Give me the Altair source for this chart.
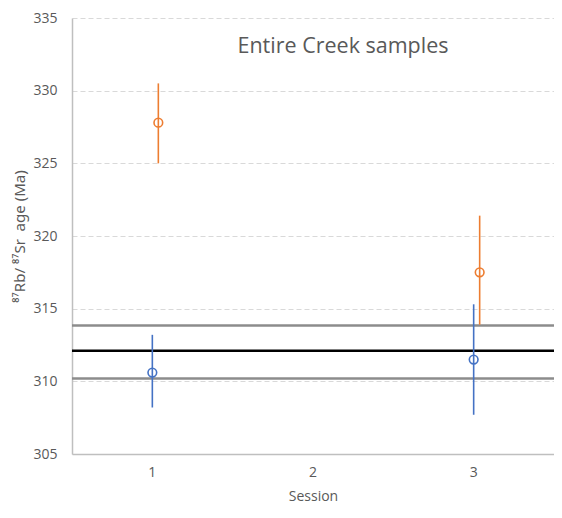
import altair as alt
import pandas as pd

sessions = ["1", "3"]
all_sessions = ["1", "2", "3"]

blue_age = [310.6, 311.5]
blue_lo = [308.2, 307.7]
blue_hi = [313.2, 315.3]

orange_age = [327.8, 317.5]
orange_lo = [325.0, 313.9]
orange_hi = [330.5, 321.4]

mean_age = [312.1]
bound_ages = [310.2, 313.85]

BLUE = "#4472C4"
ORANGE = "#ED7D31"
FONT = "Open Sans"

blue_df = pd.DataFrame({"session": sessions, "age": blue_age, "lo": blue_lo, "hi": blue_hi})
orange_df = pd.DataFrame({"session": sessions, "age": orange_age, "lo": orange_lo, "hi": orange_hi})
mean_df = pd.DataFrame({"age": mean_age})
bound_df = pd.DataFrame({"age": bound_ages})

x_enc = alt.X(
    "session:O",
    scale=alt.Scale(domain=all_sessions, paddingInner=0, paddingOuter=0),
    axis=alt.Axis(
        title="Session", labelAngle=0, ticks=False, grid=False,
        domainColor="#bfbfbf", domainWidth=1.5,
        labelFont=FONT, labelFontSize=14, labelColor="#595959", labelPadding=11,
        titleFont=FONT, titleFontSize=14, titleColor="#595959", titleFontWeight="normal",
        titlePadding=10,
    ),
)
y_scale = alt.Scale(domain=[305, 335], nice=False, zero=False)
y_axis = alt.Axis(
    title="⁸⁷Rb/\u00a0⁸⁷Sr\u00a0\u00a0age (Ma)", values=[305, 310, 315, 320, 325, 330, 335],
    ticks=False, grid=True, gridColor="#d9d9d9", gridDash=[5, 3], gridWidth=1,
    domainColor="#bfbfbf", domainWidth=1.5,
    labelFont=FONT, labelFontSize=14, labelColor="#595959", labelPadding=15,
    titleFont="Noto Sans", titleFontSize=15, titleColor="#595959", titleFontWeight="normal",
    titlePadding=5,
)

base_axes = alt.Chart(bound_df).mark_rule(color="#8c8c8c", strokeWidth=2.5).encode(
    y=alt.Y("age:Q", scale=y_scale, axis=y_axis)
)
mean_rule = alt.Chart(mean_df).mark_rule(color="#000000", strokeWidth=2.5).encode(
    y=alt.Y("age:Q", scale=y_scale)
)

def series(df, color, dx):
    err = alt.Chart(df).mark_rule(color=color, strokeWidth=1.6, xOffset=dx).encode(
        x=x_enc, y=alt.Y("lo:Q", scale=y_scale), y2="hi:Q"
    )
    pts = alt.Chart(df).mark_point(
        shape="circle", filled=False, color=color, size=75, strokeWidth=1.6, opacity=1, xOffset=dx
    ).encode(x=x_enc, y=alt.Y("age:Q", scale=y_scale))
    return err + pts

chart = alt.layer(
    base_axes, mean_rule, series(blue_df, BLUE, 0), series(orange_df, ORANGE, 6)
).properties(
    width=482, height=436,
    padding={"left": 64, "top": 10, "right": 0, "bottom": 56},
    autosize=alt.AutoSizeParams(type="none"),
    title=alt.TitleParams(
        "Entire Creek samples", font=FONT, fontSize=21.5, color="#595959",
        fontWeight="normal", anchor="middle", dx=30, dy=50,
    ),
).configure_view(stroke=None)

chart.save("out.html", embed_options={"renderer": "svg", "actions": False})
